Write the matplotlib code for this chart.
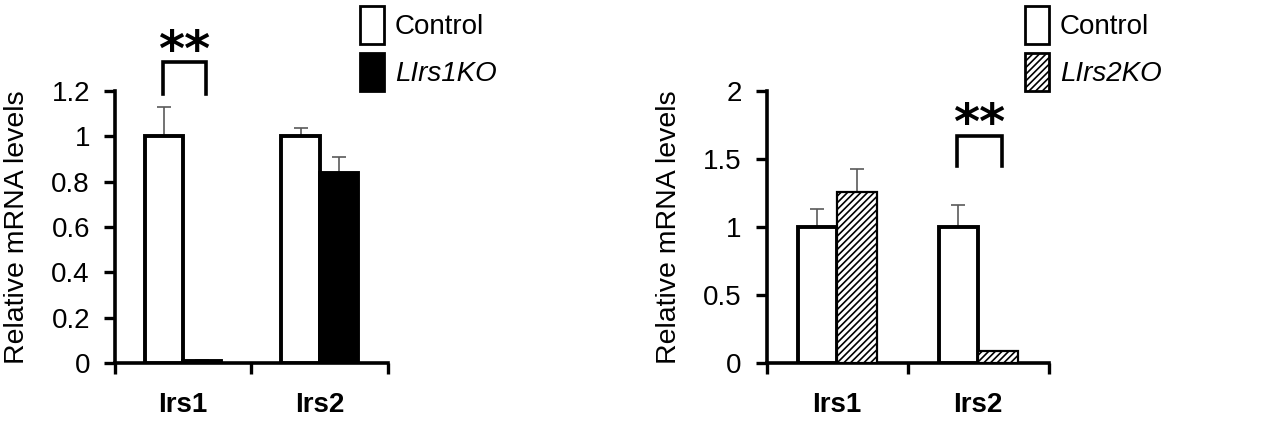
import numpy as np
import matplotlib.pyplot as plt
from matplotlib.patches import Patch

genes = ['Irs1', 'Irs2']

# left panel: liver Irs1 knockout
ko1_label = 'LIrs1KO'
ctrl1 = [1.0, 1.0]
ctrl1_err = [0.13, 0.035]
ko1 = [0.01, 0.84]
ko1_err = [0.005, 0.07]

# right panel: liver Irs2 knockout
ko2_label = 'LIrs2KO'
ctrl2 = [1.0, 1.0]
ctrl2_err = [0.13, 0.16]
ko2 = [1.26, 0.09]
ko2_err = [0.165, 0.0]

fam = ['Liberation Sans', 'DejaVu Sans']
plt.rcParams['font.family'] = fam
plt.rcParams['hatch.linewidth'] = 1.2

fig = plt.figure(figsize=(12.62, 4.24), dpi=100)
ax1 = fig.add_axes([0.0911, 0.1439, 0.2163, 0.6415])
ax2 = fig.add_axes([0.6075, 0.1439, 0.2235, 0.6415])

W = 0.28
x = np.arange(len(genes))


def panel(ax, ctrl, ctrl_err, ko, ko_err, ko_fill, ko_hatch, ymax, yticks, ylabels, labx):
    ax.bar(x - W / 2, ctrl, W, color='white', edgecolor='black', linewidth=2.8, zorder=3)
    ax.bar(x + W / 2, ko, W, color=ko_fill, edgecolor='black', linewidth=2.8 if ko_hatch is None else 1.6,
           hatch=ko_hatch, zorder=3)
    ax.errorbar(x - W / 2, ctrl, yerr=[np.zeros(2), ctrl_err], fmt='none', ecolor='#5a5a5a',
                elinewidth=1.2, capsize=5, capthick=1.2, zorder=2)
    ax.errorbar(x + W / 2, ko, yerr=[np.zeros(2), ko_err], fmt='none', ecolor='#5a5a5a',
                elinewidth=1.2, capsize=5, capthick=1.2, zorder=2)
    ax.set_xlim(-0.5, 1.5)
    ax.set_ylim(0, ymax)
    ax.set_yticks(yticks)
    ax.set_yticklabels(ylabels, fontsize=20)
    ax.set_xticks(x)
    ax.set_xticklabels(genes, fontsize=20, fontweight='bold')
    ax.set_xticks([-0.5, 0.5, 1.5], minor=True)
    ax.tick_params(axis='x', which='major', length=0, pad=21)
    ax.tick_params(axis='x', which='minor', length=8, width=2.4, direction='out')
    ax.tick_params(axis='y', length=8, width=2.4, direction='out', pad=10)
    for s in ['top', 'right']:
        ax.spines[s].set_visible(False)
    for s in ['left', 'bottom']:
        ax.spines[s].set_linewidth(2.6)
    ax.set_ylabel('Relative mRNA levels', fontsize=20.5)
    ax.yaxis.set_label_coords(labx, 0.5)


panel(ax1, ctrl1, ctrl1_err, ko1, ko1_err, 'black', None, 1.2,
      [0, 0.2, 0.4, 0.6, 0.8, 1.0, 1.2], ['0', '0.2', '0.4', '0.6', '0.8', '1', '1.2'], -0.31)
panel(ax2, ctrl2, ctrl2_err, ko2, ko2_err, 'white', '/////', 2.0,
      [0, 0.5, 1.0, 1.5, 2.0], ['0', '0.5', '1', '1.5', '2'], -0.30)


def bracket(ax, xc, ylo, yhi, ystar):
    ax.plot([xc - W / 2 - 0.01, xc - W / 2 - 0.01, xc + W / 2 + 0.03, xc + W / 2 + 0.03],
            [ylo, yhi, yhi, ylo], color='black', linewidth=2.6, clip_on=False, solid_joinstyle='miter')
    ax.text(xc + 0.01, ystar, '**', ha='center', va='center', fontsize=36, fontweight='bold',
            family='DejaVu Sans', clip_on=False)


bracket(ax1, 0, 1.185, 1.326, 1.37)
bracket(ax2, 1, 1.45, 1.669, 1.75)

leg_kw = dict(frameon=False, handlelength=0.85, handleheight=1.7,
              labelspacing=0.35, handletextpad=0.4, borderpad=0, borderaxespad=0,
              loc='upper left', prop={'size': 20})
h1 = [Patch(facecolor='white', edgecolor='black', linewidth=2.0),
      Patch(facecolor='black', edgecolor='black', linewidth=2.0)]
h2 = [Patch(facecolor='white', edgecolor='black', linewidth=2.0),
      Patch(facecolor='white', edgecolor='black', linewidth=2.0, hatch='/////')]
lg1 = fig.legend(h1, ['Control', ko1_label], bbox_to_anchor=(360 / 1262, 1 - 6 / 424), **leg_kw)
lg2 = fig.legend(h2, ['Control', ko2_label], bbox_to_anchor=(1025 / 1262, 1 - 6 / 424), **leg_kw)
for lg in (lg1, lg2):
    lg.get_texts()[1].set_fontstyle('italic')

fig.savefig('out.png', dpi=100)
